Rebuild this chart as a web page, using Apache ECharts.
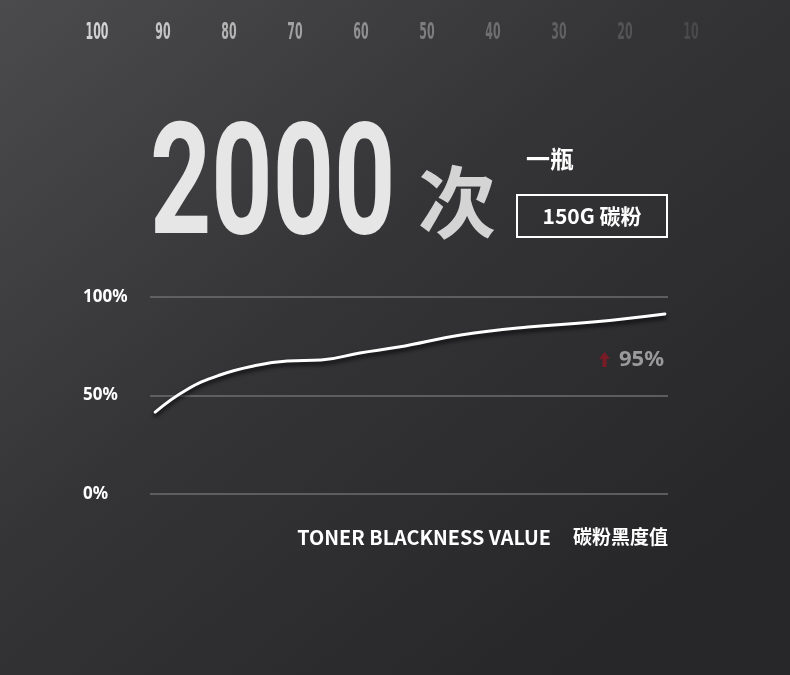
<!DOCTYPE html>
<html><head><meta charset="utf-8">
<script src="https://cdn.jsdelivr.net/npm/echarts@6/dist/echarts.min.js"></script>
<style>html,body{margin:0;padding:0;background:#333;}#c{width:790px;height:675px;}</style>
</head><body><div id="c"></div>
<script>
var topTicks = ['100','90','80','70','60','50','40','30','20','10'];
var topTickColors = ['#d2d2d2','#c4c4c4','#b4b4b4','#a2a2a2','#909090','#7e7e7e','#6e6e6e','#606060','#545454','#4a4a4a'];
var usageX = [1, 7, 13.5, 20, 26.5, 33, 40.5, 48, 60, 73, 85.5, 99.4];
var blackness = [41.6, 52.8, 60.4, 65.0, 67.5, 68.0, 71.6, 74.6, 80.7, 84.8, 87.3, 91.4];
var bigNumber = '2000';
var bigUnit = '次';
var subLabel = '一瓶';
var boxLabel = '150G 碳粉';
var badge = '95%';
var axisTitleEn = 'TONER BLACKNESS VALUE';
var axisTitleZh = '碳粉黑度值';

var chart = echarts.init(document.getElementById('c'));
var G = echarts.graphic;
var pts = usageX.map(function(x, i){ return [x, blackness[i]]; });

var graphics = [
  {type: 'text', x: 150, y: 272, scaleX: 0.69,
   style: {text: bigNumber, fontSize: 155, fontWeight: 'bold', fontFamily: 'Roboto, sans-serif',
     fill: '#e6e6e6', align: 'left', verticalAlign: 'bottom',
     shadowColor: 'rgba(0,0,0,0.25)', shadowBlur: 3, shadowOffsetX: 2}},
  {type: 'text', left: 418, top: 163,
   style: {text: bigUnit, fontSize: 78, fontWeight: 'bold', fontFamily: 'Noto Sans CJK SC, sans-serif',
     fill: '#d4d4d4'}},
  {type: 'text', left: 526, top: 147,
   style: {text: subLabel, fontSize: 24, fontWeight: 'bold', fontFamily: 'Noto Sans CJK SC, sans-serif', fill: '#ffffff'}},
  {type: 'rect', shape: {x: 517, y: 195, width: 150, height: 42},
   style: {fill: 'none', stroke: '#ffffff', lineWidth: 2}},
  {type: 'text', x: 592, y: 216,
   style: {text: boxLabel, fontSize: 21, fontWeight: 'bold', fontFamily: 'Noto Sans CJK SC, sans-serif',
     fill: '#ffffff', align: 'center', verticalAlign: 'middle'}},
  {type: 'polygon', shape: {points: [[604.5, 352], [610, 359], [606.5, 359], [606.5, 367], [602.5, 367], [602.5, 359], [599, 359]]},
   style: {fill: '#7a1c26'}},
  {type: 'text', x: 664, y: 360,
   style: {text: badge, fontSize: 22, fontWeight: 'bold', fill: '#9a9a9c', fontFamily: 'Noto Sans, sans-serif',
     align: 'right', verticalAlign: 'middle'}},
  {type: 'text', x: 551, y: 537,
   style: {text: axisTitleEn, fontSize: 19.8, fontWeight: 'bold', fontFamily: 'Noto Sans CJK SC, sans-serif',
     fill: '#ffffff', align: 'right', verticalAlign: 'middle'}},
  {type: 'text', x: 668, y: 537,
   style: {text: axisTitleZh, fontSize: 19, fontWeight: 'bold', fontFamily: 'Noto Sans CJK SC, sans-serif',
     fill: '#ffffff', align: 'right', verticalAlign: 'middle'}}
];

var option = {
  backgroundColor: new G.LinearGradient(0, 0, 0.7, 1, [
    {offset: 0, color: '#4b4b4e'},
    {offset: 0.5, color: '#343437'},
    {offset: 1, color: '#27272a'}
  ]),
  animation: false,
  grid: [
    {left: 150, right: 122, top: 297, bottom: 181},
    {left: 64, right: 66, top: 10, height: 10}
  ],
  xAxis: [
    {type: 'value', gridIndex: 0, min: 0, max: 100, show: false},
    {type: 'category', gridIndex: 1, data: topTicks, boundaryGap: true, show: false}
  ],
  yAxis: [
    {type: 'value', gridIndex: 0, min: 0, max: 100, interval: 50,
     axisLine: {show: false}, axisTick: {show: false},
     splitLine: {lineStyle: {color: '#6e6e70', width: 1.5}},
     axisLabel: {align: 'left', margin: 67, color: '#ffffff', fontSize: 17, fontWeight: 'bold',
       fontFamily: 'Noto Sans, sans-serif', formatter: '{value}%'}},
    {type: 'value', gridIndex: 1, show: false}
  ],
  series: [{
    type: 'line', xAxisIndex: 0, yAxisIndex: 0, data: pts, smooth: 0.45, symbol: 'none',
    lineStyle: {color: '#ffffff', width: 3, shadowColor: 'rgba(0,0,0,0.85)', shadowBlur: 4, shadowOffsetY: 3, cap: 'round'}
  }],
  graphic: graphics
};
chart.setOption(option);

topTicks.forEach(function(t, i){
  var px = chart.convertToPixel({xAxisIndex: 1}, t);
  graphics.push({type: 'text', x: px, y: 33, scaleX: 0.55, scaleY: 1.15,
    style: {text: t, fontSize: 20, fontWeight: 'bold', fontFamily: 'DejaVu Sans, sans-serif', fill: topTickColors[i],
      align: 'center', verticalAlign: 'middle'}});
});
chart.setOption({graphic: graphics});
</script></body></html>
